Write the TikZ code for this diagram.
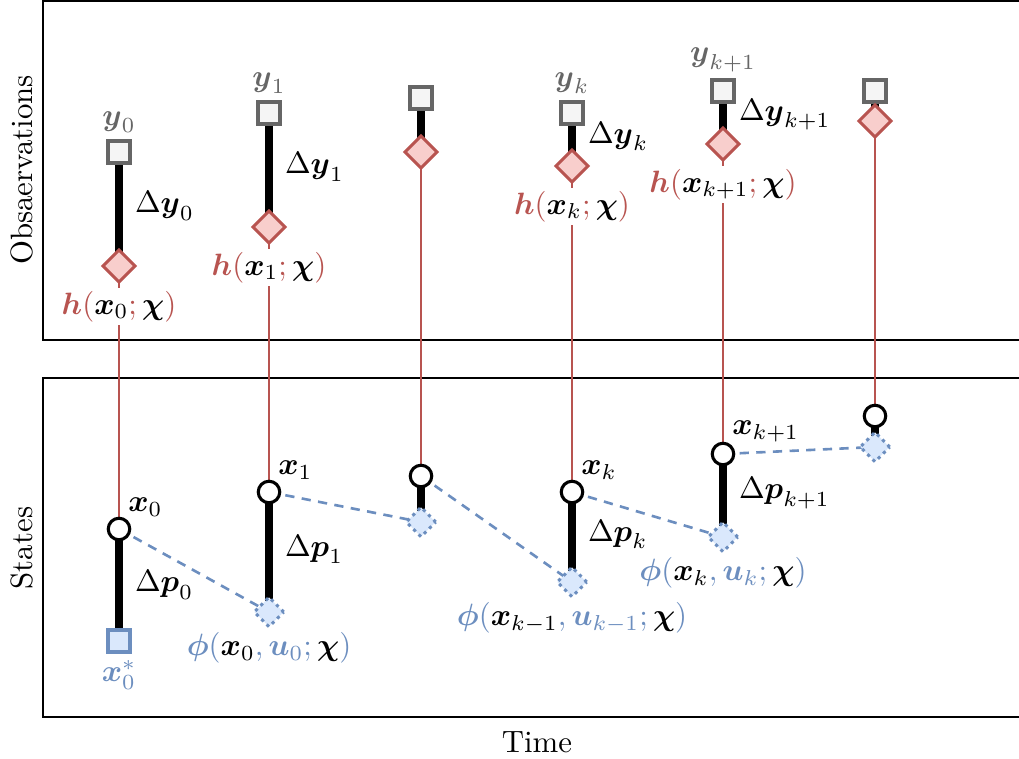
\documentclass[tikz,border=0pt]{standalone}
\usepackage{amsmath,amssymb}
\usetikzlibrary{positioning,shapes.geometric,backgrounds}

\definecolor{obsdraw}{HTML}{666666}
\definecolor{obsfill}{HTML}{F5F5F5}
\definecolor{preddraw}{HTML}{B85450}
\definecolor{predfill}{HTML}{F8CECC}
\definecolor{propdraw}{HTML}{6C8EBF}
\definecolor{propfill}{HTML}{DAE8FC}

\newcommand{\vx}{\boldsymbol{x}}
\newcommand{\vy}{\boldsymbol{y}}
\newcommand{\vh}{\boldsymbol{h}}
\newcommand{\vu}{\boldsymbol{u}}
\newcommand{\vp}{\boldsymbol{p}}
\newcommand{\vphi}{\boldsymbol{\phi}}
\newcommand{\vchi}{\boldsymbol{\chi}}
% h(x;chi) and phi(x,u;chi) with black arguments
\newcommand{\hlab}[1]{\textcolor{preddraw}{$\vh(\textcolor{black}{\vx_{#1}};\textcolor{black}{\vchi})$}}
\newcommand{\flab}[1]{\textcolor{propdraw}{$\vphi(\textcolor{black}{\vx_{#1}},\vu_{#1};\textcolor{black}{\vchi})$}}

\tikzset{
  obs/.style={draw=obsdraw,fill=obsfill,line width=1pt,minimum size=0.25cm,inner sep=0pt},
  pred/.style={diamond,draw=preddraw,fill=predfill,line width=1pt,minimum size=0.38cm,inner sep=0pt},
  state/.style={circle,draw,fill=white,line width=1pt,minimum size=0.245cm,inner sep=0pt},
  prior/.style={draw=propdraw,fill=propfill,line width=1pt,minimum size=0.25cm,inner sep=0pt},
  prop/.style={diamond,draw=propdraw,fill=propfill,line width=1pt,dash pattern=on 1pt off 1.4pt,minimum size=0.35cm,inner sep=0pt},
  res/.style={line width=2.6pt},
  hline/.style={draw=preddraw,line width=0.85pt},
  fline/.style={draw=propdraw,line width=0.85pt,dash pattern=on 3pt off 2.4pt},
  frame/.style={line width=0.5pt},
  lbl/.style={inner sep=1pt},
}

\begin{document}
\begin{tikzpicture}[x=0.0114cm,y=-0.0114cm]
\useasboundingbox (0,0) rectangle (1019,759);

\foreach \i/\cx/\ya/\ha/\xa in {0/119/152/266/529, 1/269/113/227/492, 2/421/98/152/476,
    3/572/113/166/492, 4/723/91/144/454, 5/875/91/121/416}{
  \node[obs] (y\i) at (\cx,\ya) {};
  \node[pred] (h\i) at (\cx,\ha) {};
  \node[state] (x\i) at (\cx,\xa) {};
}
\node[prior] (p0) at (119,641) {};
\foreach \i/\cx/\pa in {1/269/612, 2/421/522, 3/572/582, 4/723/537, 5/875/447}{
  \node[prop] (p\i) at (\cx,\pa) {};
}

\begin{scope}[on background layer]
\draw[frame] (1019,1) -| (43,340) -- (1019,340);
\draw[frame] (1019,378) -| (43,717) -- (1019,717);
\foreach \i in {0,...,5}{
  \draw[res] (y\i.center) -- (h\i.center);
  \draw[hline] (h\i.center) -- (x\i.center);
  \draw[res] (x\i.center) -- (p\i.center);
}
\foreach \j/\i in {0/1,1/2,2/3,3/4,4/5}{
  \draw[fline] (x\j.center) -- (p\i.center);
}
\end{scope}

% observations
\node[lbl,text=obsdraw,above=1pt of y0] (ly0) {$\vy_0$};
\node[lbl,text=obsdraw,above=1pt of y1] (ly1) {$\vy_1$};
\node[lbl,text=obsdraw,above=1pt of y3] (ly3) {$\vy_k$};
\node[lbl,text=obsdraw,above=1pt of y4] (ly4) {$\vy_{k+1}$};
\path (y0) -- (h0) node[lbl,midway,right=4pt] (dy0) {$\Delta\vy_0$};
\path (y1) -- (h1) node[lbl,midway,right=4pt] (dy1) {$\Delta\vy_1$};
\path (y3) -- (h3) node[lbl,midway,right=4pt] (dy3) {$\Delta\vy_k$};
\path (y4) -- (h4) node[lbl,midway,right=4pt] (dy4) {$\Delta\vy_{k+1}$};
\node[lbl,fill=white,below=1pt of h0] (lh0) {\hlab{0}};
\node[lbl,fill=white,below=1pt of h1] (lh1) {\hlab{1}};
\node[lbl,fill=white,below=1pt of h3] (lh3) {\hlab{k}};
\node[lbl,fill=white,below=1pt of h4] (lh4) {\hlab{k+1}};

% states
\node[lbl,above right=0pt and -1pt of x0] (lx0) {$\vx_0$};
\node[lbl,above right=0pt and -1pt of x1] (lx1) {$\vx_1$};
\node[lbl,above right=0pt and -1pt of x3] (lx3) {$\vx_k$};
\node[lbl,above right=0pt and -1pt of x4] (lx4) {$\vx_{k+1}$};
\path (x0) -- (p0) node[lbl,midway,right=4pt] (dp0) {$\Delta\vp_0$};
\path (x1) -- (p1) node[lbl,midway,right=4pt] (dp1) {$\Delta\vp_1$};
\path (x3) -- (p3) node[lbl,midway,right=4pt] (dp3) {$\Delta\vp_k$};
\path (x4) -- (p4) node[lbl,midway,right=4pt] (dp4) {$\Delta\vp_{k+1}$};
\node[lbl,text=propdraw,below=1pt of p0] (lp0) {$\vx_0^*$};
\node[lbl,below=0pt of p1] (lp1) {\flab{0}};
\node[lbl,below=0pt of p3] (lp3) {\flab{k-1}};
\node[lbl,below=0pt of p4] (lp4) {\flab{k}};

\node[rotate=90] (obsname) at (22,170) {Obsaervations};
\node[rotate=90] (statename) at (22,548) {States};
\node (timename) at (537,742) {Time};
\end{tikzpicture}
\end{document}
